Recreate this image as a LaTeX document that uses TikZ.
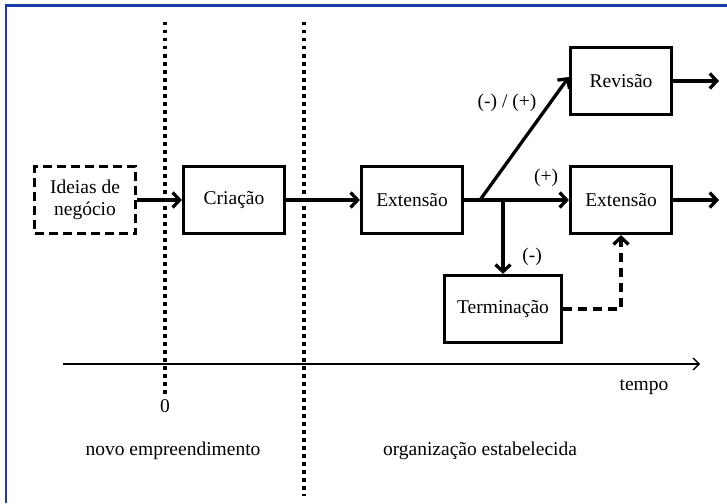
\documentclass[tikz,border=0pt]{standalone}
\usepackage{fontspec}
\setmainfont{Liberation Serif}
\usetikzlibrary{arrows.meta}
\definecolor{frameblue}{RGB}{25,60,175}
\tikzset{
  stage/.style={draw, line width=3.3pt, inner sep=0pt, minimum width=101pt, minimum height=67pt, align=center},
  idea/.style={stage, dash pattern=on 9pt off 5pt},
  flow/.style={line width=3.3pt, -{Straight Barb[length=7pt,width=15pt]}},
  dflow/.style={flow, dash pattern=on 9pt off 6pt},
  divider/.style={line width=3.5pt, dash pattern=on 3.5pt off 4.5pt},
  lbl/.style={inner sep=1pt},
}
\begin{document}
\begin{tikzpicture}[x=1pt, y=-1pt, font=\fontsize{19.5}{22}\selectfont]
\useasboundingbox (0,0) rectangle (727,503);
% frame
\draw[frameblue, line width=2.5pt] (6,503) -- (6,5.5) -- (727,5.5);

% period dividers
\coordinate (d1t) at (165,22);
\coordinate (d1b) at (165,394);
\coordinate (d2t) at (304,22);
\coordinate (d2b) at (304,496);
\draw[divider] (d1t) -- (d1b);
\draw[divider] (d2t) -- (d2b);

% stages
\node[idea]  (ideas) at (85,200)  {Ideias de\\negócio};
\node[stage] (cri)   at (234,200) {Criação};
\node[stage] (ext1)  at (412,200) {Extensão};
\node[stage] (rev)   at (621,81)  {Revisão};
\node[stage] (ext2)  at (621,200) {Extensão};
\node[stage, minimum width=117pt] (term) at (503,309) {Terminação};

% connectors
\draw[flow] (ideas.east) -- (cri.west);
\draw[flow] (cri.east) -- (ext1.west);
\draw[flow] (ext1.east) -- (ext2.west);
\coordinate (fork) at (480,200);
\draw[flow] (fork) -- ([yshift=4pt]rev.west);
\draw[flow] (term.north |- ext1.east) -- (term.north);
\draw[dflow] (term.east) -| (ext2.south);
\coordinate (revout) at (719,81);
\coordinate (extout) at (719,200);
\draw[flow] (rev.east) -- (revout);
\draw[flow] (ext2.east) -- (extout);

% branch labels
\node[lbl] (lmix) at (507,103) {(-) / (+)};
\node[lbl] (lplus) at (546,178) {(+)};
\node[lbl] (lminus) at (532,257) {(-)};

% time axis
\coordinate (ax0) at (63,364);
\coordinate (ax1) at (700,364);
\draw[line width=1.3pt, -{Straight Barb[length=6pt,width=12pt]}] (ax0) -- (ax1);
\node (tempo) at (644,387) {tempo};
\node (zero) at (165,406) {0};
\node (novo) at (173,451) {novo empreendimento};
\node (org) at (480,451) {organização estabelecida};
\end{tikzpicture}
\end{document}
